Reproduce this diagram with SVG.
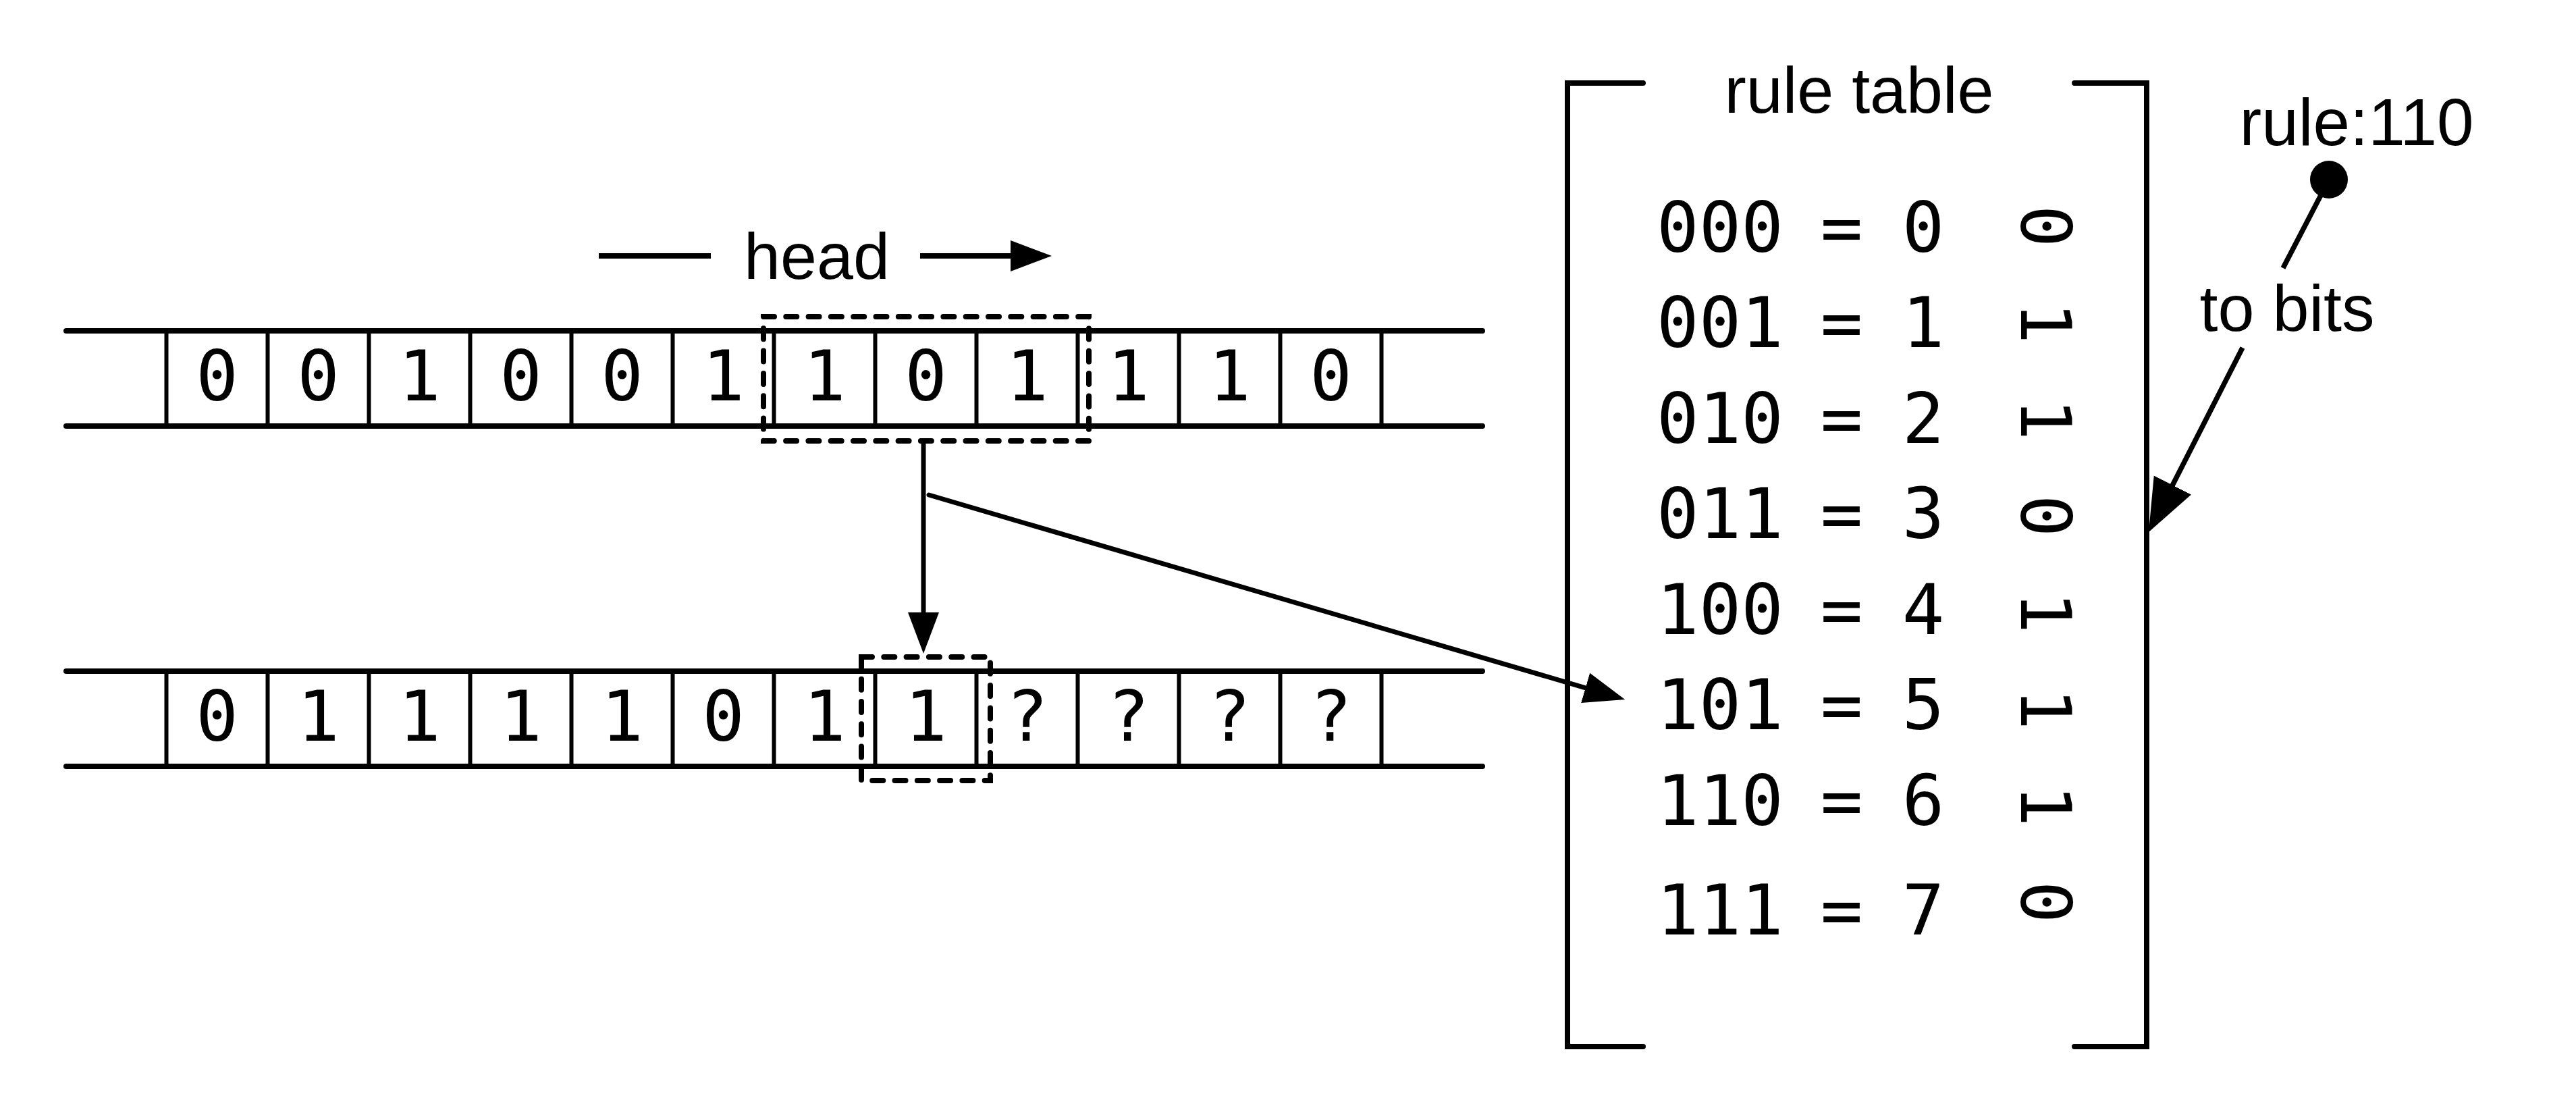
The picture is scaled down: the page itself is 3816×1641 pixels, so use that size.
<svg xmlns="http://www.w3.org/2000/svg" width="3816" height="1641" viewBox="0 0 3816 1641">
<style>
.bg{fill:#fff}
.rail{stroke:#000;stroke-width:8;stroke-linecap:round;fill:none}
.div{stroke:#000;stroke-width:6;fill:none}
.dash{stroke:#000;stroke-width:8;stroke-linecap:round;stroke-dasharray:16 17.3;fill:none}
.mono{font-family:"DejaVu Sans Mono","Liberation Mono",monospace;font-size:104px;fill:#000}
.sans{font-family:"Liberation Sans",Arial,sans-serif;font-size:97px;fill:#000}
.c{text-anchor:middle}
.wire{stroke:#000;stroke-width:7;fill:none}
.bracket{stroke:#000;stroke-width:8;fill:none;stroke-linecap:round;stroke-linejoin:miter}
</style>
<defs>
<marker id="ah" markerUnits="userSpaceOnUse" markerWidth="62" markerHeight="48" viewBox="0 0 62 48" refX="41" refY="24" orient="auto">
<path d="M0,1 L61,24 L0,47 Z" fill="#000"/>
</marker>
<marker id="ahBig" markerUnits="userSpaceOnUse" markerWidth="80" markerHeight="64" viewBox="0 0 80 64" refX="52" refY="32" orient="auto">
<path d="M0,1 L78,32 L0,63 Z" fill="#000"/>
</marker>
</defs>
<rect class="bg" x="0" y="0" width="3816" height="1641"/>

<g id="head-label">
<line class="wire" x1="887" y1="379" x2="1053" y2="379" style="stroke-width:8"/>
<text class="sans c" x="1210" y="413">head</text>
<line class="wire" x1="1363" y1="379" x2="1538" y2="379" style="stroke-width:8" marker-end="url(#ah)"/>
</g>

<g id="tape-current">
<line class="rail" x1="98" y1="490" x2="2196" y2="490"/>
<line class="rail" x1="98" y1="631" x2="2196" y2="631"/>
<path class="div" d="M246.5,490V631M396.5,490V631M546.5,490V631M696.5,490V631M846.5,490V631M996.5,490V631M1146.5,490V631M1296.5,490V631M1446.5,490V631M1596.5,490V631M1746.5,490V631M1896.5,490V631M2046.5,490V631"/>
<g class="mono c">
<text x="321.5" y="593">0</text>
<text x="471.5" y="593">0</text>
<text x="621.5" y="593">1</text>
<text x="771.5" y="593">0</text>
<text x="921.5" y="593">0</text>
<text x="1071.5" y="593">1</text>
<text x="1221.5" y="593">1</text>
<text x="1371.5" y="593">0</text>
<text x="1521.5" y="593">1</text>
<text x="1671.5" y="593">1</text>
<text x="1821.5" y="593">1</text>
<text x="1971.5" y="593">0</text>
</g>
<rect id="head-window" class="dash" x="1131" y="469" width="482" height="184"/>
</g>

<g id="tape-next">
<line class="rail" x1="98" y1="994" x2="2196" y2="994"/>
<line class="rail" x1="98" y1="1135" x2="2196" y2="1135"/>
<path class="div" d="M246.5,994V1135M396.5,994V1135M546.5,994V1135M696.5,994V1135M846.5,994V1135M996.5,994V1135M1146.5,994V1135M1296.5,994V1135M1446.5,994V1135M1596.5,994V1135M1746.5,994V1135M1896.5,994V1135M2046.5,994V1135"/>
<g class="mono c">
<text x="321.5" y="1097">0</text>
<text x="471.5" y="1097">1</text>
<text x="621.5" y="1097">1</text>
<text x="771.5" y="1097">1</text>
<text x="921.5" y="1097">1</text>
<text x="1071.5" y="1097">0</text>
<text x="1221.5" y="1097">1</text>
<text x="1371.5" y="1097">1</text>
<text x="1521.5" y="1097">?</text>
<text x="1671.5" y="1097">?</text>
<text x="1821.5" y="1097">?</text>
<text x="1971.5" y="1097">?</text>
</g>
<rect id="output-window" class="dash" x="1276" y="973" width="191" height="183"/>
</g>

<g id="rule-table">
<path class="bracket" d="M2434,123H2322V1550H2434"/>
<path class="bracket" d="M3073,123H3180V1550H3073"/>
<text class="sans c" x="2754" y="167">rule table</text>
<g class="mono c">
<text x="2548" y="373">000</text><text x="2728" y="373">=</text><text x="2849" y="373">0</text>
<text x="2548" y="514">001</text><text x="2728" y="514">=</text><text x="2849" y="514">1</text>
<text x="2548" y="656">010</text><text x="2728" y="656">=</text><text x="2849" y="656">2</text>
<text x="2548" y="797">011</text><text x="2728" y="797">=</text><text x="2849" y="797">3</text>
<text x="2548" y="939">100</text><text x="2728" y="939">=</text><text x="2849" y="939">4</text>
<text x="2548" y="1080">101</text><text x="2728" y="1080">=</text><text x="2849" y="1080">5</text>
<text x="2548" y="1222">110</text><text x="2728" y="1222">=</text><text x="2849" y="1222">6</text>
<text x="2548" y="1384">111</text><text x="2728" y="1384">=</text><text x="2849" y="1384">7</text>
</g>
<g class="mono c">
<text x="3032" y="373" transform="rotate(90 3032 335)">0</text>
<text x="3032" y="516" transform="rotate(90 3032 478)">1</text>
<text x="3032" y="659" transform="rotate(90 3032 621)">1</text>
<text x="3032" y="802" transform="rotate(90 3032 764)">0</text>
<text x="3032" y="945" transform="rotate(90 3032 907)">1</text>
<text x="3032" y="1088" transform="rotate(90 3032 1050)">1</text>
<text x="3032" y="1231" transform="rotate(90 3032 1193)">1</text>
<text x="3032" y="1374" transform="rotate(90 3032 1336)">0</text>
</g>
</g>

<g id="rule-number">
<text class="sans c" x="3491" y="215" style="font-size:98px">rule:110</text>
<circle cx="3450" cy="266" r="28" fill="#000"/>
</g>

<g id="connectors">
<line class="wire" x1="1368" y1="653" x2="1368" y2="948" marker-end="url(#ah)"/>
<line class="wire" x1="1376" y1="733" x2="2388" y2="1030.4" stroke-linecap="round" marker-end="url(#ah)"/>
<path class="wire" style="stroke-width:7.5" d="M3450,266L3382,397M3322,515L3194.8,764.8" marker-end="url(#ahBig)"/>
<text class="sans c" x="3388" y="490">to bits</text>
</g>
</svg>
